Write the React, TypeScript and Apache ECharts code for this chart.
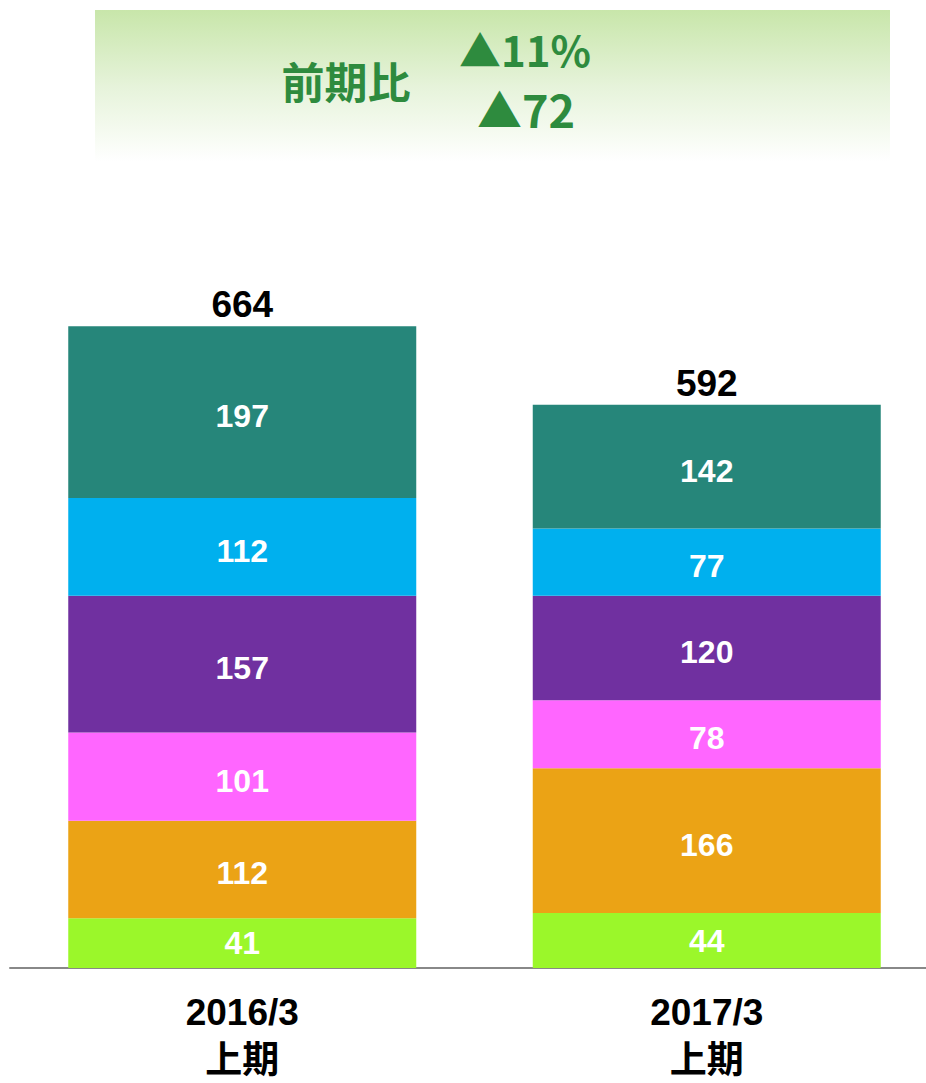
import React, { useEffect, useRef } from "react";
import * as echarts from "echarts";

// Categories (x axis)
const categories = ["2016/3\n上期", "2017/3\n上期"];

// Stacked segment values, bottom to top
const seg1Labels = [41, 44]; // bottom (lime) values as printed
const seg1Heights = [57, 63]; // drawn height of the bottom segment
const seg2 = [112, 166]; // orange
const seg3 = [101, 78]; // pink
const seg4 = [157, 120]; // purple
const seg5 = [112, 77]; // blue
const seg6 = [197, 142]; // teal
const totals = [664, 592];

const headerLabel = "前期比";
const headerPct = "▲11%";
const headerAbs = "▲72";

const colors = ["#9bf72a", "#eba315", "#ff66ff", "#7030a0", "#00b0ee", "#26867a"];

const NUM_FONT = "'Liberation Sans', Arial, 'Noto Sans CJK JP', sans-serif";

export default function App() {
  const ref = useRef<HTMLDivElement>(null);
  useEffect(() => {
    const chart = echarts.init(ref.current!, null, { renderer: "svg" });
    const innerLabel = {
      show: true,
      position: "inside",
      color: "#ffffff",
      fontSize: 32,
      fontWeight: "bold",
      fontFamily: NUM_FONT,
      offset: [0, 4],
    };
    const mk = (name: string, data: number[], color: string, fmt?: (p: any) => string) => ({
      name,
      type: "bar",
      stack: "total",
      barWidth: 348,
      data,
      itemStyle: { color },
      label: fmt ? { ...innerLabel, formatter: fmt, offset: [0, 0] } : innerLabel,
    });
    chart.setOption({
      animation: false,
      grid: {
        left: 10,
        width: 929,
        top: 270.4,
        height: 697.6,
        containLabel: false,
        outerBoundsMode: "none",
      },
      xAxis: {
        type: "category",
        data: categories,
        axisLine: { show: true, lineStyle: { color: "#888888", width: 2 } },
        axisTick: { show: false },
        axisLabel: {
          color: "#000000",
          fontSize: 37,
          fontWeight: "bold",
          fontFamily: NUM_FONT,
          lineHeight: 48,
          margin: 20,
        },
      },
      yAxis: {
        type: "value",
        min: 0,
        max: 800,
        show: false,
        splitLine: { show: false },
      },
      graphic: [
        {
          type: "rect",
          shape: { x: 95, y: 10, width: 795, height: 152 },
          style: {
            fill: new echarts.graphic.LinearGradient(0, 0, 0, 1, [
              { offset: 0, color: "#c8e6aa" },
              { offset: 0.5, color: "#e6f3da" },
              { offset: 1, color: "#ffffff" },
            ]),
          },
          z: 0,
        },
        {
          type: "text",
          x: 346,
          y: 80,
          style: {
            text: headerLabel,
            fill: "#2e8b3e",
            font: "bold 43px 'Noto Sans CJK JP', sans-serif",
            align: "center",
            verticalAlign: "middle",
          },
          z: 1,
        },
        {
          type: "text",
          x: 525,
          y: 48,
          style: {
            text: headerPct,
            fill: "#2e8b3e",
            font: "bold 42px 'Liberation Sans Narrow', 'Noto Sans CJK JP', sans-serif",
            align: "center",
            verticalAlign: "middle",
          },
          z: 1,
        },
        {
          type: "text",
          x: 526,
          y: 108,
          style: {
            text: headerAbs,
            fill: "#2e8b3e",
            font: "bold 45px 'Liberation Sans Narrow', 'Noto Sans CJK JP', sans-serif",
            align: "center",
            verticalAlign: "middle",
          },
          z: 1,
        },
      ],
      series: [
        mk("s1", seg1Heights, colors[0], (p: any) => String(seg1Labels[p.dataIndex])),
        mk("s2", seg2, colors[1]),
        mk("s3", seg3, colors[2]),
        mk("s4", seg4, colors[3]),
        mk("s5", seg5, colors[4]),
        mk("s6", seg6, colors[5]),
        {
          name: "total",
          type: "bar",
          stack: "total",
          barWidth: 348,
          data: totals.map(() => 0),
          itemStyle: { color: "transparent" },
          label: {
            show: true,
            position: "top",
            distance: 3,
            color: "#000000",
            fontSize: 37,
            fontWeight: "bold",
            fontFamily: NUM_FONT,
            formatter: (p: any) => String(totals[p.dataIndex]),
          },
        },
      ],
    });
    return () => chart.dispose();
  }, []);
  return (
    <div
      ref={ref}
      style={{ position: "absolute", left: 0, top: 0, width: 926, height: 1083 }}
    />
  );
}
